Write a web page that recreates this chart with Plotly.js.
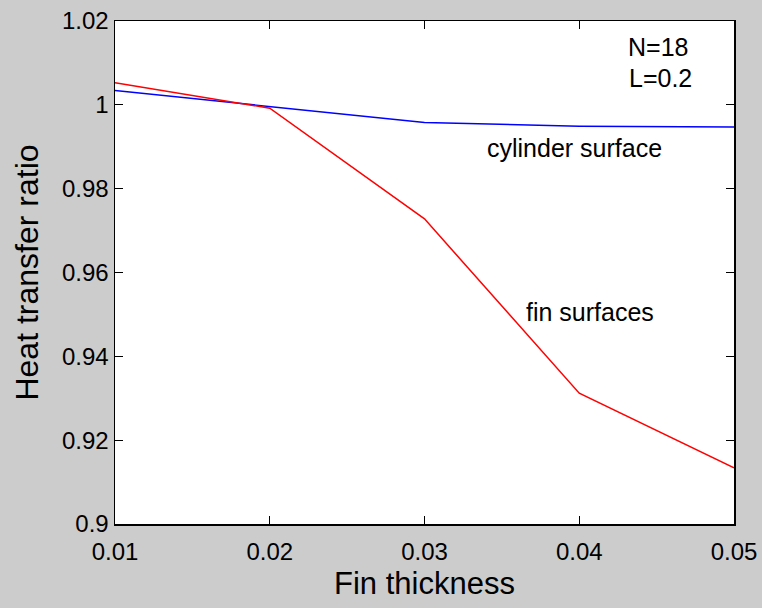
<!DOCTYPE html>
<html>
<head>
<meta charset="utf-8">
<script src="https://cdn.plot.ly/plotly-3.0.1.min.js"></script>
<style>html,body{margin:0;padding:0;background:#cccccc;}</style>
</head>
<body>
<div id="chart" style="width:762px;height:608px;"></div>
<script>
var finThickness = [0.01, 0.02, 0.03, 0.04, 0.05];
var cylinderSurface = [1.0034, 0.9996, 0.9958, 0.9949, 0.9947];
var finSurfaces = [1.0053, 0.9992, 0.9728, 0.9312, 0.9134];
var xTickVals = [0.01, 0.02, 0.03, 0.04, 0.05];
var xTickText = ["0.01", "0.02", "0.03", "0.04", "0.05"];
var yTickVals = [0.9, 0.92, 0.94, 0.96, 0.98, 1.0, 1.02];
var yTickText = ["0.9", "0.92", "0.94", "0.96", "0.98", "1", "1.02"];

var traces = [
  {x: finThickness, y: cylinderSurface, mode: 'lines', line: {color: '#0000ff', width: 1.5}, name: 'cylinder surface'},
  {x: finThickness, y: finSurfaces, mode: 'lines', line: {color: '#ff0000', width: 1.5}, name: 'fin surfaces'}
];

var fontFam = 'Arial, "Liberation Sans", sans-serif';
var layout = {
  width: 762, height: 608,
  paper_bgcolor: '#cccccc', plot_bgcolor: '#ffffff',
  margin: {l: 115, r: 28, t: 21, b: 84},
  showlegend: false,
  font: {family: fontFam, size: 24, color: '#000000'},
  xaxis: {
    range: [0.01, 0.05], tickvals: xTickVals, ticktext: xTickText,
    ticks: 'inside', ticklen: 8, tickwidth: 1, tickcolor: '#000',
    showline: true, linecolor: '#000', linewidth: 1.5, mirror: 'ticks',
    showgrid: false, zeroline: false,
    tickfont: {family: fontFam, size: 24},
    ticklabelstandoff: 6,
    title: {text: 'Fin thickness', font: {family: fontFam, size: 31}, standoff: 8}
  },
  yaxis: {
    range: [0.9, 1.02], tickvals: yTickVals, ticktext: yTickText,
    ticks: 'inside', ticklen: 8, tickwidth: 1, tickcolor: '#000',
    showline: true, linecolor: '#000', linewidth: 1.5, mirror: 'ticks',
    showgrid: false, zeroline: false,
    tickfont: {family: fontFam, size: 24},
    title: {text: 'Heat transfer ratio', font: {family: fontFam, size: 32}, standoff: 14}
  },
  annotations: [
    {x: 0.0430, y: 1.0138, xref: 'x', yref: 'y', text: 'N=18', showarrow: false, xanchor: 'left', yanchor: 'middle', font: {size: 25}},
    {x: 0.0431, y: 1.0064, xref: 'x', yref: 'y', text: 'L=0.2', showarrow: false, xanchor: 'left', yanchor: 'middle', font: {size: 25}},
    {x: 0.0339, y: 0.9897, xref: 'x', yref: 'y', text: 'cylinder surface', showarrow: false, xanchor: 'left', yanchor: 'middle', font: {size: 25}},
    {x: 0.0364, y: 0.9505, xref: 'x', yref: 'y', text: 'fin surfaces', showarrow: false, xanchor: 'left', yanchor: 'middle', font: {size: 25}}
  ]
};
Plotly.newPlot('chart', traces, layout, {displayModeBar: false, staticPlot: true});
</script>
</body>
</html>
